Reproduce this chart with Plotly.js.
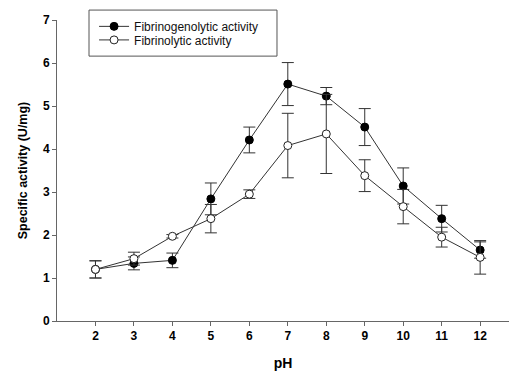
<!DOCTYPE html>
<html><head><meta charset="utf-8">
<script src="https://cdn.plot.ly/plotly-3.0.1.min.js"></script>
<style>html,body{margin:0;padding:0;background:#fff;}#chart{width:509px;height:374px;}</style>
</head><body><div id="chart"></div>
<script>
const pH = [2,3,4,5,6,7,8,9,10,11,12];
const fibrinogenolytic = [1.2,1.34,1.41,2.84,4.21,5.51,5.23,4.51,3.14,2.38,1.65];
const fibrinogenolyticErr = [0.2,0.15,0.17,0.37,0.3,0.5,0.2,0.43,0.42,0.31,0.19];
const fibrinolytic = [1.2,1.45,1.97,2.38,2.95,4.08,4.35,3.38,2.66,1.95,1.48];
const fibrinolyticErr = [0.2,0.15,0.04,0.33,0.1,0.75,0.92,0.37,0.4,0.23,0.39];
const names = ['Fibrinogenolytic activity','Fibrinolytic activity'];

const lineCol = '#333';
const legFont = {size:12,family:'Arial, Liberation Sans, sans-serif',color:'#111'};
const traces = [
  {x:pH, y:fibrinogenolytic, name:names[0], type:'scatter', mode:'lines+markers', legend:'legend',
   line:{color:lineCol,width:1},
   marker:{symbol:'circle',size:8,color:'#000',line:{color:'#000',width:1}},
   error_y:{type:'data',array:fibrinogenolyticErr,visible:true,color:lineCol,thickness:1,width:6}},
  {x:pH, y:fibrinolytic, name:names[1], type:'scatter', mode:'lines+markers', legend:'legend2',
   line:{color:lineCol,width:1},
   marker:{symbol:'circle',size:8,color:'#fff',line:{color:'#222',width:1}},
   error_y:{type:'data',array:fibrinolyticErr,visible:true,color:lineCol,thickness:1,width:6}}
];
const layout = {
  width:509, height:374,
  margin:{l:57,r:0,t:20,b:53},
  paper_bgcolor:'#fff', plot_bgcolor:'#fff',
  font:{family:'Arial, Liberation Sans, sans-serif',color:'#000'},
  showlegend:true,
  legend:{x:0.082,y:1.027,xanchor:'left',yanchor:'top',borderwidth:0,
          bgcolor:'rgba(0,0,0,0)',font:legFont},
  legend2:{x:0.082,y:0.982,xanchor:'left',yanchor:'top',borderwidth:0,
          bgcolor:'rgba(0,0,0,0)',font:legFont},
  shapes:[{type:'rect',xref:'paper',yref:'paper',x0:0.0708,x1:0.4867,y0:0.880,y1:1.033,
           line:{color:'#555',width:1},fillcolor:'rgba(0,0,0,0)',layer:'below'}],
  xaxis:{range:[1,12.75],tickmode:'array',tickvals:pH,ticktext:pH.map(String),
         showgrid:false,zeroline:false,showline:true,linecolor:'#666',linewidth:1,
         ticks:'outside',ticklen:4,tickcolor:'#666',
         tickfont:{size:12,weight:'bold'},
         title:{text:'<b>pH</b>',font:{size:14},standoff:15}},
  yaxis:{range:[0,7],dtick:1,tick0:0,
         showgrid:false,zeroline:false,showline:true,linecolor:'#666',linewidth:1,
         ticks:'outside',ticklen:4,tickcolor:'#666',
         tickfont:{size:12,weight:'bold'},
         title:{text:'<b>Specific activity (U/mg)</b>',font:{size:12.5},standoff:12}}
};
Plotly.newPlot('chart',traces,layout,{displayModeBar:false,staticPlot:true});
</script></body></html>
